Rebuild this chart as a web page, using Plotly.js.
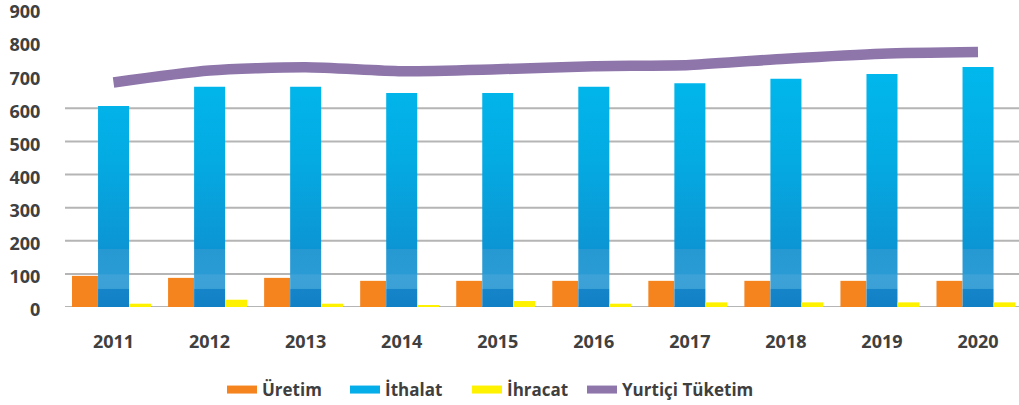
<!DOCTYPE html>
<html>
<head>
<meta charset="utf-8">
<script src="https://cdn.plot.ly/plotly-3.0.1.min.js"></script>
<style>
html,body{margin:0;padding:0;background:#ffffff;}
#chart{width:1019px;height:405px;}
</style>
</head>
<body>
<div id="chart"></div>
<script>
// ---- data ----
const years = ['2011','2012','2013','2014','2015','2016','2017','2018','2019','2020'];
const uretim  = [94, 88, 88, 79, 79, 79, 79, 79, 79, 79];
const ithalat = [607, 665, 665, 646, 646, 665, 676, 689, 704, 725];
const ihracat = [10, 22, 10, 6, 18, 10, 14, 14, 14, 14];
const yurtici = [678, 714, 724, 712, 718, 727, 731, 750, 765, 770];
const yTickVals = [0, 100, 200, 300, 400, 500, 600, 700, 800, 900];
const gridVals  = [0, 100, 200, 300, 400, 500, 600];
const seriesNames = ['Üretim', 'İthalat', 'İhracat', 'Yurtiçi Tüketim'];
const seriesColors = ['#F5841F', '#05AEE8', '#FFF200', '#8E76AB'];

// ---- layout helpers ----
const W = 1019, H = 405;
const margin = {l: 65, r: 0, t: 9, b: 98, pad: 0};
const cx = p => p / W;        // page x pixel -> container x
const cy = p => 1 - p / H;    // page y pixel -> container y

const tickFont = {family: 'Open Sans, sans-serif', size: 18, color: '#404040', weight: 'bold'};
const legFont  = {family: 'Open Sans, sans-serif', size: 17, color: '#3F3F3F', weight: 'bold'};

const data = [
  {type: 'bar', name: seriesNames[0], x: years, y: uretim, width: 0.27, offset: -0.432,
   marker: {color: seriesColors[0]}, showlegend: false},
  {type: 'bar', name: seriesNames[1], x: years, y: ithalat, width: 0.323, offset: -0.161,
   marker: {color: seriesColors[1]}, showlegend: false},
  {type: 'bar', name: seriesNames[2], x: years, y: ihracat, width: 0.23, offset: 0.161,
   marker: {color: seriesColors[2]}, showlegend: false},
  {type: 'scatter', mode: 'lines', name: seriesNames[3], x: years, y: yurtici,
   line: {color: seriesColors[3], width: 10.5, shape: 'spline', smoothing: 0.7}, showlegend: false}
];

// legend entries (one legend per entry so each can be placed)
const legendIds = ['legend', 'legend2', 'legend3', 'legend4'];
const legendStarts = [222, 345, 467, 582];
seriesNames.forEach((n, i) => {
  data.push({type: 'scatter', mode: 'lines', name: n, x: [null], y: [null],
    line: {color: seriesColors[i], width: 8}, showlegend: true, legend: legendIds[i]});
});

const layout = {
  width: W, height: H, margin: margin,
  paper_bgcolor: '#ffffff', plot_bgcolor: '#ffffff',
  barmode: 'overlay',
  font: {family: 'Open Sans, sans-serif'},
  xaxis: {type: 'category', range: [-0.505, 9.427], showgrid: false, zeroline: false, showline: false,
    ticks: 'outside', ticklen: 18, tickcolor: 'rgba(0,0,0,0)', tickfont: tickFont, fixedrange: true,
    automargin: false},
  yaxis: {range: [0, 900], tickmode: 'array', tickvals: yTickVals, showgrid: false, zeroline: false,
    showline: false, ticks: 'outside', ticklen: 20, tickcolor: 'rgba(0,0,0,0)', tickfont: tickFont,
    ticklabelshift: 3, ticklabeloverflow: 'allow', fixedrange: true, automargin: false},
  shapes: gridVals.map(v => ({type: 'line', xref: 'paper', x0: 0, x1: 1, yref: 'y', y0: v, y1: v,
    line: {color: '#B5B5B5', width: 2}, layer: 'below'})),
  hovermode: false
};
legendIds.forEach((id, i) => {
  layout[id] = {orientation: 'h', xref: 'container', yref: 'container',
    x: cx(legendStarts[i]), xanchor: 'left', y: cy(390), yanchor: 'middle',
    font: legFont, bgcolor: 'rgba(0,0,0,0)', borderwidth: 0, itemwidth: 30};
});

Plotly.newPlot('chart', data, layout, {staticPlot: true, displayModeBar: false}).then(gd => {
  const ns = 'http://www.w3.org/2000/svg';
  const svg = gd.querySelector('.main-svg');
  let defs = svg.querySelector('defs');
  if (!defs) { defs = document.createElementNS(ns, 'defs'); svg.insertBefore(defs, svg.firstChild); }
  const ya = gd._fullLayout.yaxis;
  const yTop = ya.l2p(730), yBot = ya.l2p(0);
  const off = v => Math.min(1, Math.max(0, (ya.l2p(v) - yTop) / (yBot - yTop)));
  const grad = document.createElementNS(ns, 'linearGradient');
  grad.setAttribute('id', 'blueGrad');
  grad.setAttribute('gradientUnits', 'userSpaceOnUse');
  grad.setAttribute('x1', '0'); grad.setAttribute('y1', String(yTop));
  grad.setAttribute('x2', '0'); grad.setAttribute('y2', String(yBot));
  // colour stops keyed by axis value (style only)
  [[730, '#00B8ED'], [450, '#04ABE3'], [176, '#0C95D4'], [174, '#2699D3'], [100, '#2A9BD4'],
   [97, '#3CA2D7'], [56, '#3AA0D6'], [53, '#1684C9'], [0, '#1280C4']].forEach(s => {
    const st = document.createElementNS(ns, 'stop');
    st.setAttribute('offset', off(s[0])); st.setAttribute('stop-color', s[1]);
    grad.appendChild(st);
  });
  defs.appendChild(grad);
  const barTraces = gd.querySelectorAll('.barlayer .trace');
  if (barTraces[1]) barTraces[1].querySelectorAll('path').forEach(p => { p.style.fill = 'url(#blueGrad)'; });
});
</script>
</body>
</html>
